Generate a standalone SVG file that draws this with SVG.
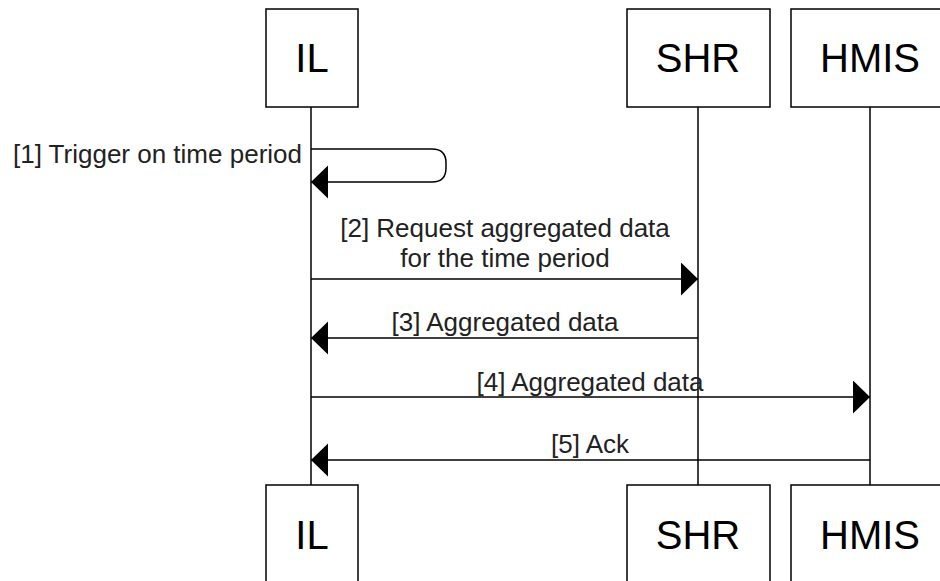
<svg xmlns="http://www.w3.org/2000/svg" width="940" height="581" viewBox="0 0 940 581">
<style>
.box{fill:#fff;stroke:#000;stroke-width:1.5}
.life{stroke:#000;stroke-width:1.5;fill:none}
.msg{stroke:#000;stroke-width:1.5;fill:none;marker-end:url(#ah)}
.nl{font-family:"Liberation Sans",Arial,sans-serif;font-size:40px;fill:#000;text-anchor:middle}
.ml{font-family:"Liberation Sans",Arial,sans-serif;font-size:26px;fill:#222}
</style>
<defs>
<marker id="ah" markerUnits="userSpaceOnUse" markerWidth="18" markerHeight="34" refX="17" refY="16.5" orient="auto" viewBox="0 0 18 34">
<path d="M0,0 L17,16.5 L0,33 Z" fill="#000"/>
</marker>
</defs>
<g id="lifelines">
<line class="life" x1="311" y1="107" x2="311" y2="485"/>
<line class="life" x1="698" y1="107" x2="698" y2="485"/>
<line class="life" x1="870" y1="107" x2="870" y2="485"/>
</g>
<g id="IL-top"><rect class="box" x="266" y="9" width="92" height="98"/><text class="nl" x="312" y="72">IL</text></g>
<g id="SHR-top"><rect class="box" x="627" y="9" width="143" height="98"/><text class="nl" x="698" y="72">SHR</text></g>
<g id="HMIS-top"><rect class="box" x="791" y="9" width="158" height="98"/><text class="nl" x="870" y="72">HMIS</text></g>
<g id="IL-bottom"><rect class="box" x="266" y="485" width="92" height="110"/><text class="nl" x="312" y="549">IL</text></g>
<g id="SHR-bottom"><rect class="box" x="627" y="485" width="143" height="110"/><text class="nl" x="698" y="549">SHR</text></g>
<g id="HMIS-bottom"><rect class="box" x="791" y="485" width="158" height="110"/><text class="nl" x="870" y="549">HMIS</text></g>
<g id="connectors">
<path class="msg" d="M311,149 H432 Q446,149 446,163 V168 Q446,182 432,182 H311"/>
<text class="ml" x="302" y="163" text-anchor="end">[1] Trigger on time period</text>
<line class="msg" x1="311" y1="279" x2="698" y2="279"/>
<text class="ml" x="505" y="237" text-anchor="middle">[2] Request aggregated data</text>
<text class="ml" x="505" y="267" text-anchor="middle">for the time period</text>
<line class="msg" x1="698" y1="338" x2="311" y2="338"/>
<text class="ml" x="505" y="331" text-anchor="middle">[3] Aggregated data</text>
<line class="msg" x1="311" y1="397" x2="870" y2="397"/>
<text class="ml" x="590" y="391" text-anchor="middle">[4] Aggregated data</text>
<line class="msg" x1="870" y1="460" x2="311" y2="460"/>
<text class="ml" x="590" y="453" text-anchor="middle">[5] Ack</text>
</g>
</svg>
